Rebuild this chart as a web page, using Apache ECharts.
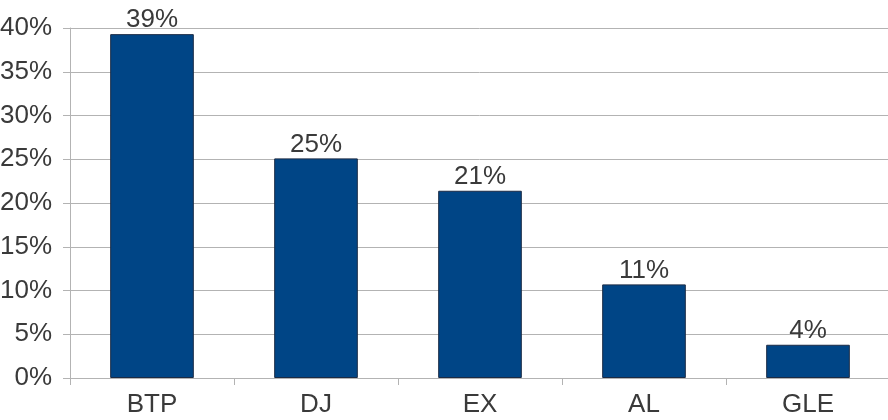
<!DOCTYPE html>
<html>
<head>
<meta charset="utf-8">
<script src="https://cdn.jsdelivr.net/npm/echarts@6/dist/echarts.min.js"></script>
<style>html,body{margin:0;padding:0;background:#fff}#c{width:888px;height:420px}</style>
</head>
<body>
<div id="c"></div>
<script>
const categories = ['BTP', 'DJ', 'EX', 'AL', 'GLE'];
const values = [39.3, 25.1, 21.4, 10.7, 3.8];
const yTicks = [0, 5, 10, 15, 20, 25, 30, 35, 40];

const chart = echarts.init(document.getElementById('c'), null, {renderer: 'canvas'});
chart.setOption({
  animation: false,
  backgroundColor: '#ffffff',
  textStyle: {fontFamily: 'Liberation Sans, Arial, sans-serif'},
  grid: {left: 70, right: -2, top: 28, bottom: 42, containLabel: false, outerBoundsMode: 'none'},
  xAxis: {
    type: 'category',
    data: categories,
    boundaryGap: true,
    axisLine: {show: true, lineStyle: {color: '#b3b3b3', width: 1}},
    axisTick: {show: true, alignWithLabel: false, length: 7, lineStyle: {color: '#b3b3b3'}},
    axisLabel: {color: '#3a3a3a', fontSize: 26, margin: 14}
  },
  yAxis: {
    type: 'value',
    min: yTicks[0],
    max: yTicks[yTicks.length - 1],
    interval: 5,
    axisLine: {show: true, lineStyle: {color: '#b3b3b3', width: 1}},
    axisTick: {show: true, length: 7, lineStyle: {color: '#b3b3b3'}},
    axisLabel: {color: '#3a3a3a', fontSize: 26, margin: 18, formatter: v => v + '%'},
    splitLine: {show: true, lineStyle: {color: '#b3b3b3', width: 1}}
  },
  series: [{
    type: 'bar',
    data: values,
    barWidth: '51%',
    itemStyle: {color: '#004586', borderColor: '#1b2b45', borderWidth: 1},
    label: {
      show: true,
      position: 'top',
      distance: 1,
      color: '#3a3a3a',
      fontSize: 26,
      formatter: p => Math.round(p.value) + '%'
    }
  }]
});
</script>
</body>
</html>
